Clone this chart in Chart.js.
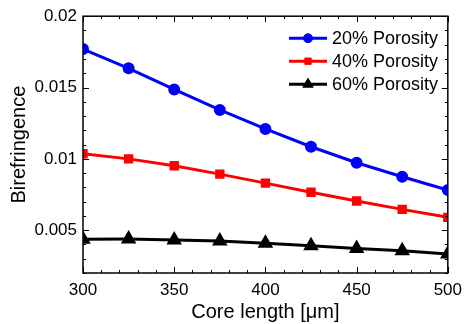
<!DOCTYPE html>
<html>
<head>
<meta charset="utf-8">
<script src="https://cdn.jsdelivr.net/npm/chart.js@4.4.1/dist/chart.umd.min.js"></script>
<style>
  html, body { margin: 0; padding: 0; background: #fff; }
  #wrap { width: 469px; height: 324px; }
</style>
</head>
<body>
<div id="wrap"><canvas id="grafico"></canvas></div>
<script>
// datos
const coreLength = [300, 325, 350, 375, 400, 425, 450, 475, 500];
const poro20 = [0.0177, 0.01635, 0.01487, 0.01343, 0.0121, 0.01085, 0.00973, 0.00875, 0.00782];
const poro40 = [0.01036, 0.01000, 0.00952, 0.00893, 0.00830, 0.00766, 0.00705, 0.00646, 0.00590];
const poro60 = [0.00437, 0.00438, 0.00432, 0.00425, 0.00409, 0.00391, 0.00372, 0.00356, 0.00334];
const seriesNames = ['20% Porosity', '40% Porosity', '60% Porosity'];
const yTicks = [0.005, 0.01, 0.015, 0.02];
const xTicks = [300, 350, 400, 450, 500];

const FONT = 'Liberation Sans, Arial, Helvetica, sans-serif';

function toXY(vals) {
    return vals.map((v, i) => ({ x: coreLength[i], y: v }));
}

// marco con ticks hacia adentro + leyenda
const marcoPlugin = {
    id: 'marco',
    afterDatasetsDraw(chart) {
        const ctx = chart.ctx;
        const a = chart.chartArea;
        const xs = chart.scales.x, ys = chart.scales.y;
        ctx.save();
        ctx.strokeStyle = '#000';
        ctx.lineWidth = 1;
        ctx.beginPath();
        // ticks x (menores cada 10)
        for (let v = 300; v <= 500; v += 10) {
            const px = Math.round(xs.getPixelForValue(v)) + 0.5;
            const len = (v % 50 === 0) ? 6 : 3;
            ctx.moveTo(px, a.bottom); ctx.lineTo(px, a.bottom - len);
            ctx.moveTo(px, a.top); ctx.lineTo(px, a.top + len);
        }
        // ticks y (menores cada 0.001)
        for (let k = 2; k <= 20; k++) {
            const py = Math.round(ys.getPixelForValue(k / 1000)) + 0.5;
            const len = (k % 5 === 0) ? 6 : 3;
            ctx.moveTo(a.left, py); ctx.lineTo(a.left + len, py);
            ctx.moveTo(a.right, py); ctx.lineTo(a.right - len, py);
        }
        ctx.stroke();
        ctx.lineWidth = 1.5;
        ctx.strokeRect(a.left, a.top, a.right - a.left, a.bottom - a.top);

        // leyenda
        chart.data.datasets.forEach((ds, i) => {
            const y = a.top + 22 + i * 23;
            const x0 = 289, x1 = 327;
            ctx.strokeStyle = ds.borderColor;
            ctx.fillStyle = ds.borderColor;
            ctx.lineWidth = 3;
            ctx.beginPath();
            ctx.moveTo(x0, y); ctx.lineTo(x1, y);
            ctx.stroke();
            ctx.lineWidth = 1;
            Chart.helpers.drawPoint(ctx, {
                pointStyle: ds.pointStyle,
                radius: ds.pointRadius,
                borderWidth: 1
            }, (x0 + x1) / 2, y);
            ctx.fillStyle = '#000';
            ctx.font = '18px ' + FONT;
            ctx.textBaseline = 'middle';
            ctx.textAlign = 'left';
            ctx.fillText(ds.label, 332, y + 1);
        });
        ctx.restore();
    }
};

function serie(label, data, color, style, r) {
    return {
        label: label,
        data: toXY(data),
        borderColor: color,
        backgroundColor: color,
        pointBackgroundColor: color,
        pointBorderColor: color,
        borderWidth: 3,
        pointStyle: style,
        pointRadius: r,
        pointHoverRadius: r,
        tension: 0
    };
}

new Chart(document.getElementById('grafico'), {
    type: 'line',
    data: {
        datasets: [
            serie(seriesNames[0], poro20, '#0000ff', 'circle', 4.5),
            serie(seriesNames[1], poro40, '#ff0000', 'rect', 4.5),
            serie(seriesNames[2], poro60, '#000000', 'triangle', 6)
        ]
    },
    options: {
        responsive: true,
        maintainAspectRatio: false,
        animation: false,
        layout: { padding: { top: 13, right: 14, left: 0, bottom: 0 } },
        plugins: {
            legend: { display: false },
            tooltip: { enabled: false }
        },
        scales: {
            x: {
                type: 'linear',
                min: 300,
                max: 500,
                afterBuildTicks: s => { s.ticks = xTicks.map(v => ({ value: v })); },
                afterFit: s => { s.height = 51; },
                grid: { display: false, drawTicks: false },
                border: { display: false },
                ticks: {
                    color: '#000',
                    padding: 7,
                    maxRotation: 0,
                    font: { family: FONT, size: 17 },
                    callback: v => String(v)
                },
                title: {
                    display: true,
                    text: 'Core length [μm]',
                    color: '#000',
                    font: { family: FONT, size: 20 },
                    padding: { top: 0, bottom: 0 }
                }
            },
            y: {
                type: 'linear',
                min: 0.002,
                max: 0.02,
                afterBuildTicks: s => { s.ticks = yTicks.map(v => ({ value: v })); },
                afterFit: s => { s.width = 83; },
                grid: { display: false, drawTicks: false },
                border: { display: false },
                ticks: {
                    color: '#000',
                    padding: 6,
                    font: { family: FONT, size: 17 },
                    callback: v => String(v)
                },
                title: {
                    display: true,
                    text: 'Birefringence',
                    color: '#000',
                    font: { family: FONT, size: 20 },
                    padding: { top: 7, bottom: 0 }
                }
            }
        }
    },
    plugins: [{
        id: 'fondo',
        beforeDraw(chart) {
            chart.ctx.fillStyle = '#fff';
            chart.ctx.fillRect(0, 0, chart.width, chart.height);
        }
    }, marcoPlugin]
});
</script>
</body>
</html>
